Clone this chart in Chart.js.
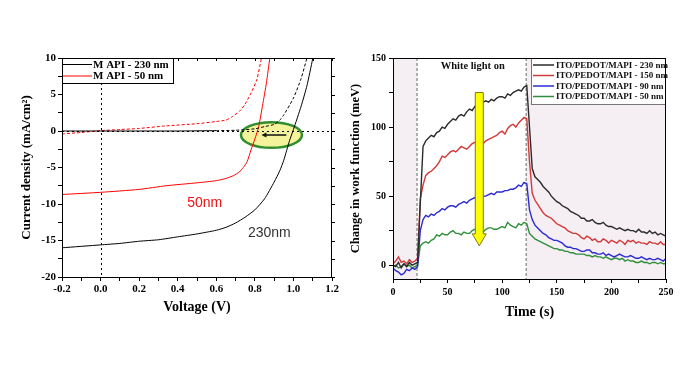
<!DOCTYPE html>
<html>
<head>
<meta charset="utf-8">
<script src="https://cdn.jsdelivr.net/npm/chart.js@4.4.1/dist/chart.umd.min.js"></script>
<style>
  html, body { margin: 0; padding: 0; background: #fff; }
  body { width: 687px; height: 378px; position: relative; overflow: hidden; }
  #jvBox { position: absolute; left: 0; top: 0; width: 343px; height: 378px; }
  #kpBox { position: absolute; left: 343px; top: 0; width: 344px; height: 378px; }
</style>
</head>
<body>
<div id="jvBox"><canvas id="jvChart"></canvas></div>
<div id="kpBox"><canvas id="kpChart"></canvas></div>
<script>
// ---- J-V curves (left panel) ----
const jvLabels = ['M API - 230 nm', 'M API - 50 nm'];

const v230Light = [-0.2, 0, 0.1, 0.2, 0.3, 0.4, 0.5, 0.6, 0.65, 0.7, 0.75, 0.8, 0.85, 0.9, 0.93, 0.95, 0.98, 1.0, 1.04, 1.07, 1.1];
const j230Light = [-16, -15.6, -15.4, -15.1, -14.9, -14.5, -14.1, -13.6, -13.2, -12.6, -11.8, -10.8, -9.3, -7.0, -5.4, -4.0, -1.3, 0.2, 3.4, 6.2, 9.9];

const v230Dark = [-0.2, 0, 0.2, 0.4, 0.6, 0.7, 0.8, 0.85, 0.9, 0.93, 0.95, 1.0, 1.04, 1.07];
const j230Dark = [0, 0, 0, 0, 0.05, 0.1, 0.3, 0.6, 0.9, 1.5, 2.2, 4.5, 7.2, 10];

const v50Light = [-0.2, 0, 0.2, 0.34, 0.5, 0.6, 0.65, 0.69, 0.72, 0.74, 0.76, 0.78, 0.8, 0.82, 0.84, 0.86, 0.877];
const j50Light = [-8.7, -8.4, -8.0, -7.5, -7.1, -6.8, -6.5, -6.1, -5.6, -5.0, -4.2, -2.6, -1.1, 0.6, 3.5, 6.6, 9.9];

const v50Dark = [-0.2, -0.1, 0, 0.1, 0.2, 0.34, 0.5, 0.6, 0.65, 0.68, 0.72, 0.75, 0.78, 0.81, 0.834];
const j50Dark = [-0.4, -0.2, 0.05, 0.2, 0.35, 0.7, 1.0, 1.3, 1.5, 1.9, 2.7, 3.7, 5.2, 7.0, 10];

const voltTicks = [-0.2, 0, 0.2, 0.4, 0.6, 0.8, 1.0, 1.2];
const voltMinor = [-0.1, 0.1, 0.3, 0.5, 0.7, 0.9, 1.1];
const currentTicks = [-20, -15, -10, -5, 0, 5, 10];
const currentMinor = [-17.5, -12.5, -7.5, -2.5, 2.5, 7.5];

// ---- work function transients (right panel) ----
const kpLabels = ['ITO/PEDOT/MAPI - 230 nm', 'ITO/PEDOT/MAPI - 150 nm', 'ITO/PEDOT/MAPI - 90 nm', 'ITO/PEDOT/MAPI - 50 nm'];

const timeSec = [
  0, 2.5, 5, 7.5, 10, 12.5, 15, 17.5, 20, 22.5,
  25, 27.5, 30, 32.5, 35, 37.5, 40, 42.5, 45, 47.5,
  50, 52.5, 55, 57.5, 60, 62.5, 65, 67.5, 70, 72.5,
  75, 77.5, 80, 82.5, 85, 87.5, 90, 92.5, 95, 97.5,
  100, 102.5, 105, 107.5, 110, 112.5, 115, 117.5, 120, 122.5,
  125, 127.5, 130, 132.5, 135, 137.5, 140, 142.5, 145, 147.5,
  150, 152.5, 155, 157.5, 160, 162.5, 165, 167.5, 170, 172.5,
  175, 177.5, 180, 182.5, 185, 187.5, 190, 192.5, 195, 197.5,
  200, 202.5, 205, 207.5, 210, 212.5, 215, 217.5, 220, 222.5,
  225, 227.5, 230, 232.5, 235, 237.5, 240, 242.5, 245, 247.5,
  250
];

const kp230 = [
  0, -1, 2, -2, 1, -1, 2, 0, 1, 2,
  45, 86, 90, 92, 94, 93, 96, 97, 100, 99,
  102, 104, 106, 105, 108, 109, 108, 111, 113, 112,
  115, 114, 116, 118, 119, 118, 120, 119, 121, 122,
  122, 121, 124, 123, 125, 126, 127, 126, 129, 130,
  100, 70, 64, 62, 60, 57, 55, 53, 50, 48,
  46, 45, 43, 42, 41, 39, 38, 37, 36, 34,
  34, 32, 32, 33, 31, 30, 30, 31, 29, 28,
  28, 27, 26, 27, 26, 25, 26, 25, 25, 24,
  26, 24, 24, 23, 25, 23, 24, 22, 23, 22,
  21
];
const kp150 = [
  1, 3, 6, 2, 3, 1, 4, 2, 3, 5,
  48, 58, 65, 67, 68, 70, 72, 75, 79, 78,
  80, 82, 83, 82, 84, 86, 85, 84, 86, 88,
  89, 87, 86, 88, 90, 91, 92, 93, 94, 96,
  97, 95, 99, 101, 102, 100, 103, 105, 107, 106,
  75, 52, 47, 44, 41, 38, 36, 35, 34, 32,
  30, 29, 28, 27, 25, 24, 23, 23, 22, 20,
  19, 21, 20, 18, 19, 17, 17, 19, 18, 16,
  18, 17, 16, 18, 17, 15, 18, 17, 18, 16,
  17, 16, 16, 15, 17, 16, 16, 15, 17, 15,
  15
];
const kp90 = [
  -2, -4, -5, -7, -6, -3, -4, -2, -3, -1,
  25, 33, 36, 35, 37, 36, 38, 39, 41, 40,
  42, 43, 43, 42, 44, 45, 46, 45, 47, 48,
  49, 48, 49, 50, 50, 51, 52, 51, 53, 53,
  53, 54, 54, 55, 55, 56, 58, 57, 60, 59,
  40, 33, 29, 27, 25, 23, 22, 20, 19, 18,
  18, 17, 16, 14, 13, 13, 12, 12, 11, 10,
  10, 11, 11, 9, 9, 8, 8, 9, 7, 8,
  7, 6, 7, 8, 7, 6, 6, 7, 6, 5,
  5, 6, 5, 4, 5, 4, 4, 5, 4, 3,
  5
];
const kp50 = [
  -1, 0, -2, -1, 1, -1, 0, -2, -1, 0,
  14, 16, 17, 16, 18, 19, 22, 21, 23, 22,
  22, 24, 25, 23, 23, 22, 24, 23, 23, 25,
  26, 25, 25, 24, 26, 27, 27, 26, 26, 27,
  28, 27, 31, 29, 28, 27, 30, 29, 31, 30,
  23, 21, 19, 18, 17, 16, 15, 14, 13, 12,
  12, 11, 11, 10, 10, 9, 9, 8, 8, 8,
  8, 7, 7, 6, 7, 6, 6, 5, 6, 5,
  4, 5, 5, 4, 5, 3, 4, 3, 3, 2,
  2, 3, 2, 2, 1, 2, 2, 1, 2, 1,
  1
];

const timeTicks = [0, 50, 100, 150, 200, 250];
const timeMinor = [25, 75, 125, 175, 225];
const kpTicks = [0, 50, 100, 150];
const kpMinor = [25, 75, 125];

// light on / off marks (s)
const lightOn = 22;
const lightOff = 122;

const SERIF = '"Liberation Serif", "DejaVu Serif", serif';
const SANS = '"Liberation Sans", Arial, sans-serif';

function pts(xs, ys) {
    return xs.map((x, i) => ({ x: x, y: ys[i] }));
}

function tickList(major, minor) {
    return major.concat(minor).sort((a, b) => a - b).map(v => ({ value: v }));
}

// draws the box around the plot area
const framePlugin = {
    id: 'frame',
    afterDatasetsDraw(chart) {
        const a = chart.chartArea;
        const ctx = chart.ctx;
        ctx.save();
        ctx.strokeStyle = '#000';
        ctx.lineWidth = 1;
        ctx.strokeRect(a.left + 0.5, a.top + 0.5, a.right - a.left - 1, a.bottom - a.top);
        ctx.restore();
    }
};

// 1. Left panel
const jvDecor = {
    id: 'jvDecor',
    beforeDatasetsDraw(chart) {
        const ctx = chart.ctx;
        const xs = chart.scales.x, ys = chart.scales.y;
        const a = chart.chartArea;
        ctx.save();
        // highlighted Voc region
        const cx = xs.getPixelForValue(0.886), cy = ys.getPixelForValue(-0.55);
        const rx = xs.getPixelForValue(0.886 + 0.158) - cx;
        const ry = ys.getPixelForValue(-0.55 - 1.76) - cy;
        ctx.beginPath();
        ctx.ellipse(cx, cy, rx, ry, 0, 0, Math.PI * 2);
        ctx.fillStyle = '#f4f29a';
        ctx.fill();
        ctx.lineWidth = 2.5;
        ctx.strokeStyle = '#2f8f2f';
        ctx.stroke();
        // dotted zero lines
        ctx.setLineDash([2, 3]);
        ctx.lineWidth = 1;
        ctx.strokeStyle = '#000';
        ctx.beginPath();
        const y0 = Math.round(ys.getPixelForValue(0)) + 0.5;
        ctx.moveTo(a.left, y0);
        ctx.lineTo(a.right, y0);
        const x0 = Math.round(xs.getPixelForValue(0)) + 0.5;
        ctx.moveTo(x0, a.top);
        ctx.lineTo(x0, a.bottom);
        ctx.stroke();
        ctx.restore();
    },
    afterDatasetsDraw(chart) {
        const ctx = chart.ctx;
        const xs = chart.scales.x, ys = chart.scales.y;
        const a = chart.chartArea;
        ctx.save();
        // mirrored ticks: top edge inward, right edge outward
        ctx.strokeStyle = '#000';
        ctx.lineWidth = 1;
        ctx.beginPath();
        xs.ticks.forEach(t => {
            const px = Math.round(xs.getPixelForValue(t.value)) + 0.5;
            ctx.moveTo(px, a.top);
            ctx.lineTo(px, a.top + 3);
        });
        ys.ticks.forEach(t => {
            const py = Math.round(ys.getPixelForValue(t.value)) + 0.5;
            ctx.moveTo(a.right, py);
            ctx.lineTo(a.right + 3, py);
        });
        ctx.stroke();

        // small arrow inside the ellipse
        const ay = ys.getPixelForValue(-0.55);
        const ax1 = xs.getPixelForValue(0.963), ax2 = xs.getPixelForValue(0.834);
        ctx.strokeStyle = '#111';
        ctx.fillStyle = '#111';
        ctx.lineWidth = 1.5;
        ctx.beginPath();
        ctx.moveTo(ax1, ay);
        ctx.lineTo(ax2 + 4, ay);
        ctx.stroke();
        ctx.beginPath();
        ctx.moveTo(ax2, ay);
        ctx.lineTo(ax2 + 5, ay - 2.5);
        ctx.lineTo(ax2 + 5, ay + 2.5);
        ctx.closePath();
        ctx.fill();

        // thickness labels
        ctx.font = '14px ' + SANS;
        ctx.textAlign = 'center';
        ctx.textBaseline = 'middle';
        ctx.fillStyle = '#ee1111';
        ctx.fillText('50nm', xs.getPixelForValue(0.54), ys.getPixelForValue(-9.9));
        ctx.fillStyle = '#333';
        ctx.fillText('230nm', xs.getPixelForValue(0.875), ys.getPixelForValue(-14));

        // legend box
        const lx = a.left, ly = a.top, lw = 111, lh = 25;
        ctx.fillStyle = '#fff';
        ctx.fillRect(lx, ly, lw, lh);
        ctx.strokeStyle = '#000';
        ctx.lineWidth = 1;
        ctx.strokeRect(lx + 0.5, ly + 0.5, lw, lh);
        ctx.font = 'bold 11px ' + SERIF;
        ctx.textAlign = 'left';
        const cols = ['#000', '#ff0000'];
        jvLabels.forEach((lab, i) => {
            const yy = ly + 6.5 + i * 11.5;
            ctx.strokeStyle = cols[i];
            ctx.beginPath();
            ctx.moveTo(lx + 1, yy);
            ctx.lineTo(lx + 30, yy);
            ctx.stroke();
            ctx.fillStyle = '#000';
            ctx.fillText(lab, lx + 31, yy + 0.5);
        });
        ctx.restore();
    }
};

new Chart(document.getElementById('jvChart').getContext('2d'), {
    type: 'line',
    data: {
        datasets: [
            {
                label: jvLabels[0] + ' (dark)',
                data: pts(v230Dark, j230Dark),
                borderColor: '#000',
                borderWidth: 1,
                segment: { borderDash: c => c.p0.parsed.x < 0.6 ? [] : [3, 2] }
            },
            {
                label: jvLabels[1] + ' (dark)',
                data: pts(v50Dark, j50Dark),
                borderColor: '#ff0000',
                borderWidth: 1,
                borderDash: [3, 2]
            },
            {
                label: jvLabels[0],
                data: pts(v230Light, j230Light),
                borderColor: '#000',
                borderWidth: 1
            },
            {
                label: jvLabels[1],
                data: pts(v50Light, j50Light),
                borderColor: '#ff0000',
                borderWidth: 1
            }
        ]
    },
    options: {
        responsive: true,
        maintainAspectRatio: false,
        animation: false,
        elements: { point: { radius: 0 }, line: { tension: 0.2 } },
        layout: { padding: { top: 58, right: 11, bottom: 58, left: 0 } },
        plugins: { legend: { display: false }, tooltip: { enabled: false } },
        scales: {
            x: {
                type: 'linear',
                min: -0.2,
                max: 1.2,
                afterBuildTicks: s => { s.ticks = tickList(voltTicks, voltMinor); },
                afterFit: s => { s.height = 43; },
                grid: { drawOnChartArea: false, tickLength: 4, color: '#000' },
                border: { color: '#000' },
                ticks: {
                    autoSkip: false,
                    maxRotation: 0,
                    padding: 2,
                    color: '#000',
                    font: { family: SERIF, size: 11, weight: 'bold' },
                    callback: v => voltTicks.includes(v) ? v.toFixed(1) : ''
                },
                title: {
                    display: true,
                    text: 'Voltage (V)',
                    color: '#000',
                    font: { family: SERIF, size: 14, weight: 'bold' },
                    padding: { top: 0, bottom: 4 }
                }
            },
            y: {
                type: 'linear',
                min: -20,
                max: 10,
                afterBuildTicks: s => { s.ticks = tickList(currentTicks, currentMinor); },
                afterFit: s => { s.width = 62; },
                grid: { drawOnChartArea: false, tickLength: 4, color: '#000' },
                border: { color: '#000' },
                ticks: {
                    autoSkip: false,
                    padding: 2,
                    color: '#000',
                    font: { family: SERIF, size: 11, weight: 'bold' },
                    callback: v => currentTicks.includes(v) ? String(v) : ''
                },
                title: {
                    display: true,
                    text: 'Current density (mA/cm²)',
                    color: '#000',
                    font: { family: SERIF, size: 13, weight: 'bold' },
                    padding: { top: 19, bottom: 0 }
                }
            }
        }
    },
    plugins: [jvDecor, framePlugin]
});

// 2. Right panel
const kpColors = ['#2b2b2b', '#d23a3a', '#2b2bd0', '#2f8f3a'];

const kpDecor = {
    id: 'kpDecor',
    beforeDatasetsDraw(chart) {
        const ctx = chart.ctx;
        const xs = chart.scales.x;
        const a = chart.chartArea;
        const xOn = xs.getPixelForValue(lightOn), xOff = xs.getPixelForValue(lightOff);
        ctx.save();
        ctx.fillStyle = '#f5eef3';
        ctx.fillRect(a.left, a.top, xOn - a.left, a.bottom - a.top);
        ctx.fillRect(xOff, a.top, a.right - xOff, a.bottom - a.top);
        ctx.setLineDash([3, 2]);
        ctx.strokeStyle = '#999';
        ctx.lineWidth = 1.5;
        ctx.beginPath();
        ctx.moveTo(xOn, a.top);
        ctx.lineTo(xOn, a.bottom);
        ctx.moveTo(xOff, a.top);
        ctx.lineTo(xOff, a.bottom);
        ctx.stroke();
        ctx.restore();
    },
    afterDatasetsDraw(chart) {
        const ctx = chart.ctx;
        const xs = chart.scales.x, ys = chart.scales.y;
        const a = chart.chartArea;
        ctx.save();
        // label for the illuminated period
        ctx.font = 'bold 10.5px ' + SERIF;
        ctx.fillStyle = '#111';
        ctx.textAlign = 'center';
        ctx.textBaseline = 'middle';
        ctx.fillText('White light on', xs.getPixelForValue(73), ys.getPixelForValue(144));

        // yellow arrow (decreasing thickness)
        const ax = xs.getPixelForValue(79);
        const top = ys.getPixelForValue(125), tip = ys.getPixelForValue(14);
        const hw = 4, headW = 7, headL = 12;
        ctx.beginPath();
        ctx.moveTo(ax - hw, top);
        ctx.lineTo(ax + hw, top);
        ctx.lineTo(ax + hw, tip - headL);
        ctx.lineTo(ax + headW, tip - headL);
        ctx.lineTo(ax, tip);
        ctx.lineTo(ax - headW, tip - headL);
        ctx.lineTo(ax - hw, tip - headL);
        ctx.closePath();
        ctx.fillStyle = '#ffff00';
        ctx.fill();
        ctx.strokeStyle = '#7a7a10';
        ctx.lineWidth = 1;
        ctx.stroke();

        // legend box
        const lw = 135, lh = 46;
        const lx = a.right - lw, ly = a.top;
        ctx.fillStyle = '#fff';
        ctx.fillRect(lx, ly, lw, lh);
        ctx.strokeStyle = '#777';
        ctx.strokeRect(lx + 0.5, ly + 0.5, lw - 1, lh);
        ctx.font = 'bold 9px ' + SERIF;
        ctx.textAlign = 'left';
        kpLabels.forEach((lab, i) => {
            const yy = ly + 7 + i * 10.5;
            ctx.strokeStyle = kpColors[i];
            ctx.lineWidth = 1.5;
            ctx.beginPath();
            ctx.moveTo(lx + 2, yy);
            ctx.lineTo(lx + 23, yy);
            ctx.stroke();
            ctx.fillStyle = '#111';
            ctx.fillText(lab, lx + 25, yy + 0.5);
        });
        ctx.restore();
    }
};

new Chart(document.getElementById('kpChart').getContext('2d'), {
    type: 'line',
    data: {
        datasets: [kp230, kp150, kp90, kp50].map((vals, i) => ({
            label: kpLabels[i],
            data: pts(timeSec, vals),
            borderColor: kpColors[i],
            borderWidth: 1.4
        }))
    },
    options: {
        responsive: true,
        maintainAspectRatio: false,
        animation: false,
        elements: { point: { radius: 0 }, line: { tension: 0 } },
        layout: { padding: { top: 58, right: 21, bottom: 57, left: 0 } },
        plugins: { legend: { display: false }, tooltip: { enabled: false } },
        scales: {
            x: {
                type: 'linear',
                min: 0,
                max: 250,
                afterBuildTicks: s => { s.ticks = tickList(timeTicks, timeMinor); },
                afterFit: s => { s.height = 42; },
                grid: { drawOnChartArea: false, tickLength: 4, color: '#000' },
                border: { color: '#000' },
                ticks: {
                    autoSkip: false,
                    maxRotation: 0,
                    padding: 3,
                    color: '#000',
                    font: { family: SERIF, size: 10, weight: 'bold' },
                    callback: v => timeTicks.includes(v) ? String(v) : ''
                },
                title: {
                    display: true,
                    text: 'Time (s)',
                    color: '#000',
                    font: { family: SERIF, size: 14, weight: 'bold' },
                    padding: { top: 0, bottom: 0 }
                }
            },
            y: {
                type: 'linear',
                min: -10,
                max: 150,
                afterBuildTicks: s => { s.ticks = tickList(kpTicks, kpMinor); },
                afterFit: s => { s.width = 50; },
                grid: { drawOnChartArea: false, tickLength: 4, color: '#000' },
                border: { color: '#000' },
                ticks: {
                    autoSkip: false,
                    padding: 3,
                    color: '#000',
                    font: { family: SERIF, size: 10, weight: 'bold' },
                    callback: v => kpTicks.includes(v) ? String(v) : ''
                },
                title: {
                    display: true,
                    text: 'Change in work function (meV)',
                    color: '#000',
                    font: { family: SERIF, size: 12.5, weight: 'bold' },
                    padding: { top: 5, bottom: 0 }
                }
            }
        }
    },
    plugins: [kpDecor, framePlugin]
});
</script>
</body>
</html>
